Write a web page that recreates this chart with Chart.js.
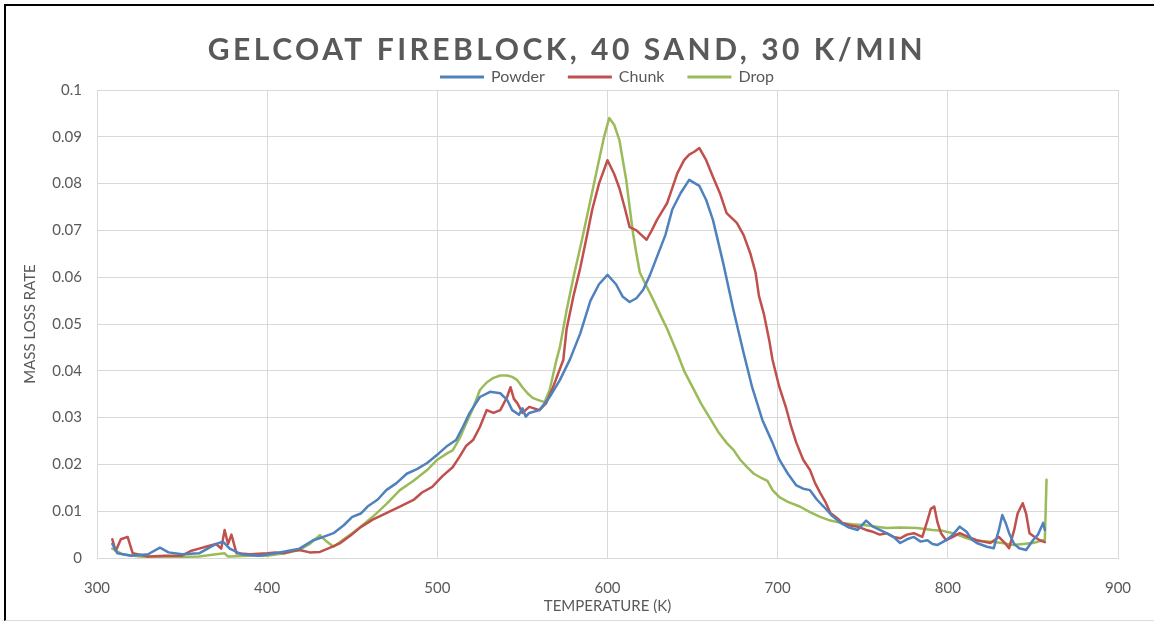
<!DOCTYPE html>
<html>
<head>
<meta charset="utf-8">
<script src="https://cdn.jsdelivr.net/npm/chart.js@4.4.1/dist/chart.umd.min.js"></script>
<style>
  html, body { margin: 0; padding: 0; background: #fff; }
  #wrap { position: relative; width: 1154px; height: 622px; overflow: hidden; }
  #frame {
    position: absolute; left: 4px; top: 4px; right: -10px; bottom: 1px;
    border-top: 2px solid #000; border-left: 2px solid #000; border-bottom: 1px solid #dcdcdc;
    pointer-events: none;
  }
  canvas { position: absolute; left: 0; top: 0; }
</style>
</head>
<body>
<div id="wrap">
  <canvas id="mlrChart" width="1154" height="622"></canvas>
  <div id="frame"></div>
</div>
<script>
const xTicks = [300, 400, 500, 600, 700, 800, 900];
const yTicks = [0, 0.01, 0.02, 0.03, 0.04, 0.05, 0.06, 0.07, 0.08, 0.09, 0.1];

// Powder
const powderTemp = [309, 312, 320, 330, 337, 342, 350, 360, 365, 370, 374, 378, 385, 395, 405, 412, 419, 427, 433, 439,
  445, 450, 455, 459, 465, 470, 476, 482, 488, 494, 501, 506, 511, 515, 519, 525, 531, 537, 541, 544,
  548, 550, 552, 554, 560, 566, 572, 578, 584, 590, 595, 600, 605, 609, 613, 617, 621, 625, 629, 634,
  638, 643, 648, 654, 658, 662, 668, 674, 680, 685, 691, 697, 701, 706, 711, 715, 719, 723, 727, 732,
  737, 742, 747, 752, 756, 760, 764, 768, 772, 776, 780, 784, 788, 791, 794, 799, 803, 807, 811, 814,
  817, 823, 827, 830, 832, 834, 836, 839, 842, 846, 850, 853, 856, 857];
const powderRate = [0.003, 0.001, 0.0005, 0.0008, 0.0022, 0.0012, 0.0008, 0.001, 0.002, 0.003, 0.0035, 0.002, 0.0008, 0.0005, 0.001, 0.0015, 0.002, 0.0038, 0.0045, 0.0053,
  0.007, 0.0088, 0.0095, 0.011, 0.0125, 0.0145, 0.016, 0.018, 0.019, 0.0203, 0.0224, 0.024, 0.0252, 0.028, 0.031, 0.0344, 0.0355, 0.0352, 0.0338, 0.0316,
  0.0306, 0.032, 0.0302, 0.031, 0.0316, 0.0344, 0.038, 0.0425, 0.048, 0.055, 0.0585, 0.0605, 0.0585, 0.0558, 0.0547, 0.0555, 0.0573, 0.0605, 0.0643, 0.069,
  0.0744, 0.078, 0.0808, 0.0795, 0.0765, 0.0722, 0.063, 0.053, 0.0438, 0.0365, 0.0295, 0.0246, 0.021, 0.018, 0.0155, 0.0148, 0.0145, 0.0125, 0.011, 0.009,
  0.0075, 0.0065, 0.006, 0.008, 0.0067, 0.006, 0.0053, 0.0045, 0.0032, 0.004, 0.0045, 0.0035, 0.0038, 0.003, 0.0028, 0.0038, 0.005, 0.0067, 0.0056, 0.004,
  0.0032, 0.0024, 0.0021, 0.006, 0.0092, 0.0075, 0.0053, 0.003, 0.0021, 0.0017, 0.0038, 0.005, 0.0075, 0.006];

// Chunk
const chunkTemp = [309, 311, 314, 318, 321, 330, 340, 350, 355, 360, 365, 370, 373, 375, 377, 379, 382, 390, 400, 405,
  410, 415, 419, 425, 431, 437, 443, 449, 455, 462, 470, 478, 486, 491, 497, 503, 509, 513, 517, 521,
  525, 529, 533, 537, 541, 543, 545, 547, 550, 554, 560, 564, 568, 574, 576, 580, 584, 588, 591, 595,
  600, 604, 607, 610, 613, 617, 620, 623, 626, 629, 632, 635, 638, 641, 645, 648, 651, 654, 658, 662,
  666, 670, 676, 680, 684, 687, 689, 692, 695, 697, 701, 705, 708, 711, 715, 719, 722, 725, 728, 731,
  735, 738, 742, 747, 752, 756, 760, 764, 768, 772, 776, 780, 785, 788, 790, 792, 794, 796, 799, 803,
  807, 812, 817, 821, 825, 830, 834, 836, 839, 841, 844, 846, 848, 851, 854, 857];
const chunkRate = [0.004, 0.0015, 0.004, 0.0045, 0.001, 0.0003, 0.0005, 0.0005, 0.0015, 0.002, 0.0025, 0.003, 0.002, 0.006, 0.003, 0.005, 0.001, 0.0008, 0.001, 0.0012,
  0.001, 0.0015, 0.0017, 0.0012, 0.0013, 0.0022, 0.0032, 0.0048, 0.0066, 0.0082, 0.0096, 0.011, 0.0124, 0.014, 0.0152, 0.0175, 0.0194, 0.0216, 0.024, 0.0252,
  0.028, 0.0316, 0.031, 0.0316, 0.0344, 0.0365, 0.034, 0.0331, 0.031, 0.0323, 0.0316, 0.0331, 0.0365, 0.0423, 0.049, 0.056, 0.062, 0.069, 0.0744, 0.08,
  0.085, 0.082, 0.079, 0.075, 0.0707, 0.07, 0.069, 0.068, 0.07, 0.0722, 0.074, 0.0758, 0.079, 0.0822, 0.085, 0.0862, 0.0868, 0.0876, 0.085, 0.0814,
  0.078, 0.0737, 0.0716, 0.069, 0.065, 0.061, 0.056, 0.052, 0.0466, 0.0423, 0.0365, 0.032, 0.028, 0.0246, 0.021, 0.0188, 0.016, 0.0139, 0.012, 0.0096,
  0.0085, 0.0075, 0.007, 0.0067, 0.006, 0.0056, 0.005, 0.0053, 0.0045, 0.0042, 0.005, 0.0053, 0.0045, 0.008, 0.0105, 0.011, 0.0075, 0.0053, 0.0038, 0.0045,
  0.0053, 0.0045, 0.0038, 0.0035, 0.0032, 0.0045, 0.003, 0.0021, 0.006, 0.0095, 0.0117, 0.0095, 0.0053, 0.0045, 0.0038, 0.0034];

// Drop
const dropTemp = [309, 315, 325, 340, 360, 370, 375, 377, 390, 400, 410, 419, 425, 431, 435, 439, 445, 450, 456, 462,
  470, 478, 486, 494, 500, 506, 509, 513, 517, 521, 525, 529, 533, 537, 541, 544, 547, 550, 553, 556,
  559, 563, 566, 570, 572, 576, 580, 585, 590, 595, 598, 601, 604, 607, 609, 611, 613, 615, 617, 619,
  623, 627, 631, 635, 641, 645, 650, 655, 660, 665, 670, 674, 678, 682, 686, 690, 694, 697, 701, 706,
  713, 719, 725, 731, 737, 744, 752, 758, 764, 772, 782, 791, 797, 803, 809, 815, 821, 827, 832, 838,
  844, 850, 856, 857, 858];
const dropRate = [0.002, 0.0008, 0.0003, 0.0002, 0.0003, 0.0008, 0.001, 0.0003, 0.0005, 0.0005, 0.001, 0.0017, 0.003, 0.0049, 0.0035, 0.0024, 0.004, 0.0053, 0.007, 0.0088,
  0.0115, 0.0145, 0.0165, 0.0188, 0.021, 0.0224, 0.023, 0.0255, 0.0288, 0.032, 0.0359, 0.0375, 0.0385, 0.039, 0.039, 0.0387, 0.038, 0.0365, 0.0352, 0.0342,
  0.0338, 0.0333, 0.0359, 0.0423, 0.045, 0.053, 0.06, 0.068, 0.0765, 0.085, 0.09, 0.094, 0.0925, 0.0893, 0.085, 0.0808, 0.075, 0.0694, 0.065, 0.061,
  0.058, 0.0551, 0.052, 0.049, 0.0438, 0.04, 0.0365, 0.033, 0.03, 0.027, 0.0246, 0.0231, 0.021, 0.0194, 0.018, 0.0172, 0.0165, 0.0145, 0.013, 0.012,
  0.011, 0.0098, 0.0088, 0.008, 0.0075, 0.0072, 0.007, 0.0067, 0.0064, 0.0065, 0.0064, 0.006, 0.0058, 0.0053, 0.0045, 0.0038, 0.0036, 0.0034, 0.0032, 0.0028,
  0.003, 0.0032, 0.0038, 0.0038, 0.0167];

const toPoints = (temps, rates) => temps.map((t, i) => ({ x: t, y: rates[i] }));

const textGrey = '#595959';
const gridGrey = '#d9d9d9';

// spaced-out title nudged a bit right, legend box trimmed so the plot starts right under it
const headerTweaks = {
  id: 'headerTweaks',
  afterInit(chart) {
    const block = chart.titleBlock;
    const drawTitle = block.draw.bind(block);
    block.draw = (area) => {
      const c = chart.ctx;
      c.save();
      c.letterSpacing = '3.5px';
      c.translate(8, 0);
      drawTitle(area);
      c.restore();
      c.letterSpacing = '0px';
    };
    const legend = chart.legend;
    const fitLegend = legend.fit.bind(legend);
    legend.fit = () => {
      fitLegend();
      legend.height -= 5;
    };
  }
};

const ctx = document.getElementById('mlrChart').getContext('2d');
const mlrChart = new Chart(ctx, {
  type: 'scatter',
  data: {
    datasets: [
      { label: 'Powder', data: toPoints(powderTemp, powderRate), borderColor: '#4f81bd', backgroundColor: '#4f81bd' },
      { label: 'Chunk', data: toPoints(chunkTemp, chunkRate), borderColor: '#c0504d', backgroundColor: '#c0504d' },
      { label: 'Drop', data: toPoints(dropTemp, dropRate), borderColor: '#9bbb59', backgroundColor: '#9bbb59' }
    ]
  },
  options: {
    responsive: false,
    animation: false,
    showLine: true,
    elements: {
      point: { radius: 0, hoverRadius: 0 },
      line: { borderWidth: 2.5, tension: 0, borderJoinStyle: 'round', borderCapStyle: 'round' }
    },
    layout: { padding: { left: 0, right: 36, top: 0, bottom: 0 } },
    plugins: {
      title: {
        display: true,
        text: 'GELCOAT FIREBLOCK, 40 SAND, 30 K/MIN',
        color: textGrey,
        font: { family: 'Lato', size: 30, weight: 'bold' },
        padding: { top: 32, bottom: -23 }
      },
      legend: {
        position: 'top',
        fullSize: false,
        labels: {
          color: textGrey,
          font: { family: 'Lato', size: 16 },
          boxWidth: 42,
          boxHeight: 1,
          padding: 24,
          generateLabels(chart) {
            return chart.data.datasets.map((ds, i) => ({
              text: ds.label,
              fillStyle: ds.borderColor,
              strokeStyle: ds.borderColor,
              lineWidth: 2,
              fontColor: textGrey,
              datasetIndex: i
            }));
          }
        }
      },
      tooltip: { enabled: false }
    },
    scales: {
      x: {
        type: 'linear',
        min: 300,
        max: 900,
        afterBuildTicks: (s) => { s.ticks = xTicks.map(v => ({ value: v })); },
        afterFit: (s) => { s.height = 64; },
        grid: { color: gridGrey, lineWidth: 1, drawTicks: false },
        border: { color: gridGrey },
        ticks: { color: textGrey, font: { family: 'Lato', size: 15 }, padding: 21 },
        title: { display: true, text: 'TEMPERATURE (K)', color: textGrey, font: { family: 'Lato', size: 15 }, padding: { top: 0, bottom: 7 } }
      },
      y: {
        min: 0,
        max: 0.1,
        afterBuildTicks: (s) => { s.ticks = yTicks.map(v => ({ value: v })); },
        afterFit: (s) => { s.width = 97; },
        grid: { color: gridGrey, lineWidth: 1, drawTicks: false },
        border: { color: gridGrey },
        ticks: {
          color: textGrey,
          font: { family: 'Lato', size: 15 },
          padding: 15,
          callback: (v) => String(+v.toFixed(2))
        },
        title: { display: true, text: 'MASS LOSS RATE', color: textGrey, font: { family: 'Lato', size: 15 }, padding: { top: 21, bottom: 0 } }
      }
    }
  },
  plugins: [headerTweaks]
});
</script>
</body>
</html>
